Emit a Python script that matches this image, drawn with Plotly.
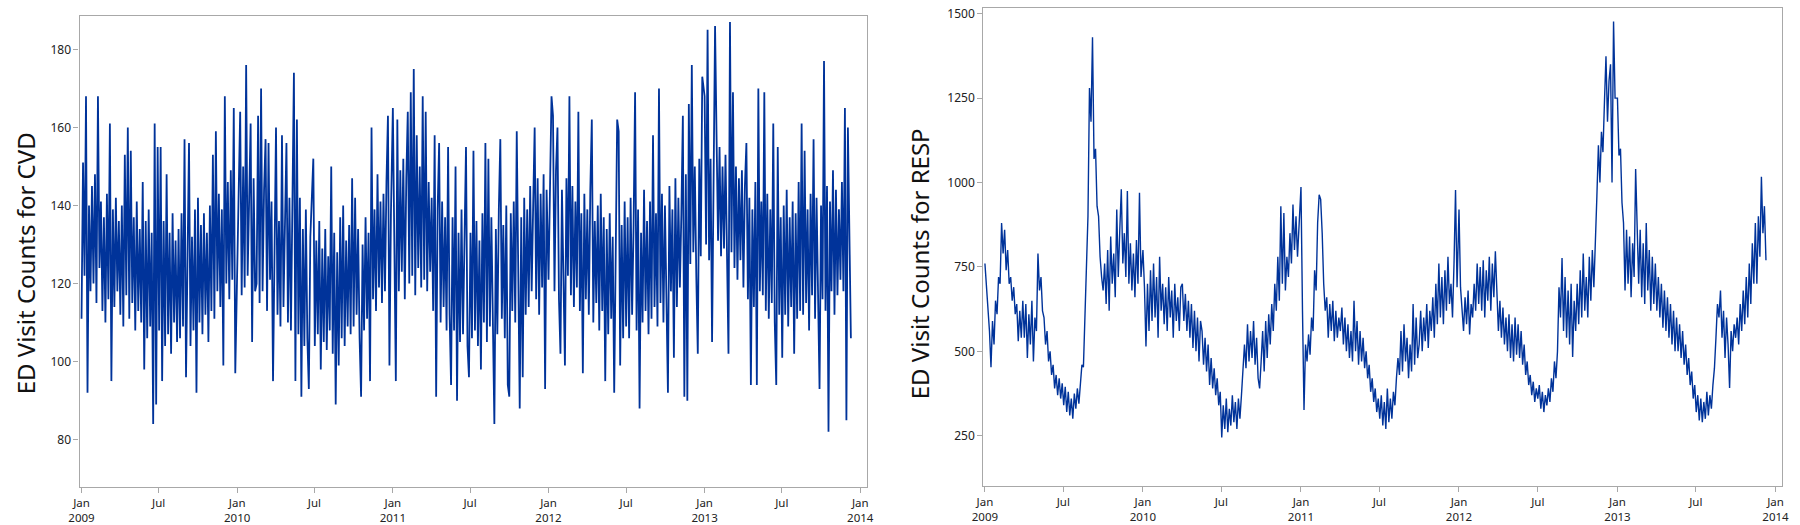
import pandas as pd
import plotly.graph_objects as go

# daily ED visit counts at roughly two samples per week
cvd_2009 = [111, 151, 122, 168, 92, 140, 118, 145, 120, 148, 115, 168, 124,
            141, 113, 137, 110, 143, 116, 161, 95, 139, 114, 142, 118, 136,
            112, 140, 109, 153, 117, 160, 111, 154, 115, 137, 108, 141, 113,
            134, 110, 146, 98, 136, 106, 139, 109, 133, 84, 161, 89, 155,
            108, 155, 95, 136, 104, 148, 107, 133, 102, 138, 110, 131, 105,
            134, 106, 138, 109, 157, 96, 135, 156, 104, 132, 108, 139, 92,
            142, 110, 135, 107, 138, 112, 133, 105, 140, 113, 153, 111, 159,
            118, 143, 114, 139, 99, 168, 120, 146, 116, 149, 121, 165, 97]
cvd_2010 = [121, 148, 164, 117, 150, 119, 176, 122, 145, 161, 105, 147, 118,
            120, 163, 115, 170, 118, 144, 157, 113, 156, 121, 141, 95, 138,
            160, 112, 136, 109, 158, 114, 139, 156, 110, 142, 108, 137, 174,
            95, 162, 107, 142, 91, 134, 104, 139, 106, 93, 132, 144, 152,
            104, 131, 107, 136, 98, 129, 105, 134, 103, 127, 108, 150, 102,
            133, 89, 128, 99, 137, 106, 140, 104, 131, 109, 135, 107, 147,
            109, 142, 112, 134, 106, 91, 130, 108, 137, 111, 133, 95, 160,
            116, 139, 113, 148, 119, 141, 115, 143, 118, 146, 163, 99, 138]
cvd_2011 = [165, 121, 95, 162, 118, 149, 123, 152, 116, 147, 164, 120, 169,
            122, 175, 117, 158, 124, 150, 119, 168, 121, 164, 118, 146, 123,
            142, 113, 158, 91, 139, 156, 110, 141, 114, 137, 108, 155, 112,
            94, 137, 108, 150, 90, 133, 105, 139, 107, 131, 155, 104, 96,
            133, 106, 154, 108, 136, 104, 131, 98, 138, 110, 156, 105, 152,
            109, 137, 112, 84, 134, 107, 139, 157, 111, 135, 106, 140, 94,
            91, 138, 113, 141, 110, 159, 115, 88, 137, 96, 142, 112, 139,
            114, 145, 118, 140, 160, 116, 147, 112, 143, 119, 148, 93, 144]
cvd_2012 = [121, 146, 168, 163, 118, 149, 160, 116, 102, 144, 120, 99, 147,
            122, 168, 117, 145, 114, 141, 119, 164, 113, 138, 97, 143, 116,
            139, 112, 144, 162, 110, 136, 115, 140, 108, 143, 113, 137, 95,
            134, 107, 138, 111, 132, 92, 136, 162, 159, 99, 135, 106, 141,
            109, 137, 106, 142, 112, 135, 169, 108, 139, 88, 133, 110, 144,
            113, 136, 107, 141, 111, 158, 114, 138, 109, 170, 115, 143, 110,
            140, 116, 92, 145, 118, 139, 101, 147, 114, 142, 119, 138, 163,
            91, 148, 90, 166, 125, 176, 128, 150, 122, 102, 152, 127, 173]
cvd_2013 = [168, 130, 185, 126, 152, 105, 149, 186, 158, 131, 155, 127, 150,
            129, 153, 125, 102, 187, 128, 169, 124, 150, 121, 147, 126, 149,
            119, 145, 156, 116, 142, 94, 139, 114, 146, 94, 170, 118, 141,
            117, 169, 113, 143, 111, 139, 115, 161, 110, 94, 155, 112, 137,
            101, 140, 112, 144, 109, 137, 114, 141, 102, 138, 111, 146, 113,
            161, 112, 154, 115, 139, 108, 143, 117, 157, 111, 142, 114, 93,
            140, 116, 177, 113, 145, 82, 141, 118, 149, 112, 144, 117, 139,
            121, 146, 118, 165, 85, 160, 131, 106]

resp_2009 = [760, 690, 610, 560, 453, 590, 520, 650, 610, 720, 700, 880, 790,
             860, 740, 800, 700, 720, 650, 690, 610, 640, 530, 620, 540, 650,
             540, 640, 480, 610, 520, 650, 470, 600, 560, 790, 680, 720, 620,
             600, 520, 560, 470, 500, 430, 460, 390, 430, 370, 420, 360, 405,
             340, 395, 320, 380, 310, 360, 300, 375, 330, 390, 345, 400, 460,
             453, 620, 760, 900, 1280, 1180, 1430, 1070, 1100, 930, 900, 780, 720,
             680, 760, 640, 800, 620, 840, 700, 790, 660, 920, 720, 860, 980,
             760, 850, 720, 975, 700, 820, 680, 790, 660, 830, 700, 970, 720]
resp_2010 = [800, 690, 514, 700, 560, 740, 590, 760, 600, 720, 540, 780, 620,
             700, 580, 690, 560, 720, 600, 680, 540, 700, 590, 660, 560, 690,
             700, 590, 670, 560, 650, 540, 640, 510, 620, 500, 600, 470, 590,
             560, 460, 540, 440, 520, 400, 480, 390, 450, 370, 420, 340, 380,
             245, 340, 270, 360, 260, 330, 280, 370, 290, 350, 270, 360, 300,
             370, 440, 520, 450, 580, 470, 560, 480, 590, 460, 540, 420, 390,
             470, 560, 440, 590, 480, 610, 520, 640, 560, 700, 620, 780, 650,
             930, 700, 910, 680, 780, 720, 850, 760, 935, 800, 900, 780, 880]
resp_2011 = [987, 620, 326, 520, 470, 550, 490, 600, 560, 740, 680, 880, 964,
             950, 850, 700, 620, 660, 540, 640, 560, 650, 530, 620, 540, 600,
             560, 630, 520, 600, 500, 580, 480, 560, 470, 650, 500, 590, 460,
             560, 470, 540, 450, 500, 420, 460, 380, 420, 350, 390, 320, 360,
             300, 370, 280, 350, 270, 390, 290, 360, 300, 380, 340, 420, 480,
             430, 560, 440, 580, 470, 540, 420, 520, 440, 640, 460, 600, 480,
             520, 620, 500, 600, 530, 640, 510, 620, 560, 660, 540, 700, 580,
             760, 600, 720, 580, 740, 620, 780, 640, 700, 600, 760, 978, 690]
resp_2012 = [920, 690, 620, 560, 660, 580, 680, 550, 640, 600, 700, 620, 760,
             640, 750, 620, 770, 600, 740, 650, 780, 620, 760, 660, 796, 640,
             560, 650, 540, 630, 520, 600, 500, 610, 480, 580, 470, 600, 490,
             580, 480, 560, 460, 520, 430, 470, 400, 430, 370, 410, 350, 390,
             360, 400, 330, 380, 320, 370, 340, 390, 350, 420, 380, 470, 420,
             500, 690, 600, 776, 560, 720, 540, 680, 520, 700, 483, 650, 560,
             700, 580, 740, 600, 790, 620, 720, 600, 780, 650, 800, 690, 860,
             960, 1110, 1000, 1150, 1090, 1240, 1374, 1180, 1300, 1350, 1000, 1477, 1250]
resp_2013 = [1250, 1080, 1100, 940, 880, 680, 860, 700, 840, 660, 820, 720, 1040,
             880, 700, 860, 660, 820, 640, 880, 680, 800, 620, 780, 640, 760,
             620, 720, 600, 700, 570, 680, 560, 660, 540, 640, 520, 620, 500,
             600, 500, 580, 480, 560, 460, 520, 430, 480, 400, 440, 360, 400,
             320, 370, 295, 360, 290, 350, 300, 380, 310, 370, 330, 400, 450,
             540, 640, 600, 680, 540, 620, 480, 600, 520, 391, 560, 500, 580,
             540, 600, 520, 640, 560, 680, 580, 720, 600, 760, 640, 820, 700,
             880, 700, 900, 780, 1017, 850, 930, 770]

years = [2009, 2010, 2011, 2012, 2013]
tick_dates = ["2009-01-01", "2009-07-01", "2010-01-01", "2010-07-01", "2011-01-01", "2011-07-01",
              "2012-01-01", "2012-07-01", "2013-01-01", "2013-07-01", "2014-01-01"]
tick_labels = ["Jan<br>2009", "Jul", "Jan<br>2010", "Jul", "Jan<br>2011", "Jul",
               "Jan<br>2012", "Jul", "Jan<br>2013", "Jul", "Jan<br>2014"]


def join_years(parts):
    dates, vals = [], []
    for yr, v in zip(years, parts):
        dates += list(pd.date_range(f"{yr}-01-01", periods=len(v), freq="84h"))
        vals += v
    return dates, vals


cvd_x, cvd_y = join_years([cvd_2009, cvd_2010, cvd_2011, cvd_2012, cvd_2013])
resp_x, resp_y = join_years([resp_2009, resp_2010, resp_2011, resp_2012, resp_2013])

line_col = "#00339a"
frame = "#a8a8a8"
tfont = dict(family="Noto Sans", size=12, color="#222222")

fig = go.Figure()
fig.add_trace(go.Scatter(x=cvd_x, y=cvd_y, mode="lines", line=dict(color=line_col, width=1.8),
                         xaxis="x", yaxis="y", showlegend=False))
fig.add_trace(go.Scatter(x=resp_x, y=resp_y, mode="lines", line=dict(color=line_col, width=1.4),
                         xaxis="x2", yaxis="y2", showlegend=False))

ax = dict(showline=True, linecolor=frame, linewidth=1.3, mirror=True, ticks="outside", ticklen=5,
          tickcolor=frame, tickfont=tfont, showgrid=False, zeroline=False)
xfont = dict(tfont, size=11.5)

fig.update_layout(
    width=1800, height=525,
    margin=dict(l=0, r=0, t=0, b=0),
    paper_bgcolor="white", plot_bgcolor="white",
    xaxis=dict(ax, domain=[68.3 / 1800, 864 / 1800], range=["2008-12-27 10:00", "2014-01-16 12:00"],
               tickvals=tick_dates, ticktext=tick_labels, tickfont=xfont, anchor="y"),
    yaxis=dict(ax, domain=[37 / 525, 511.7 / 525], range=[67.8, 188.5],
               tickvals=[80, 100, 120, 140, 160, 180], anchor="x"),
    xaxis2=dict(ax, domain=[981.7 / 1800, 1789 / 1800], range=["2008-12-28 08:00", "2014-01-16 08:00"],
                tickvals=tick_dates, ticktext=tick_labels, tickfont=xfont, anchor="y2"),
    yaxis2=dict(ax, domain=[38.3 / 525, 520.3 / 525], range=[101, 1518],
                tickvals=[250, 500, 750, 1000, 1250, 1500], anchor="x2"),
    annotations=[
        dict(text="ED Visit Counts for CVD", x=14 / 1800, y=0.5, xref="paper", yref="paper",
             textangle=-90, showarrow=False, xanchor="center", yanchor="middle",
             font=dict(family="Noto Sans", size=24, color="#111111")),
        dict(text="ED Visit Counts for RESP", x=917.5 / 1800, y=0.5, xref="paper", yref="paper",
             textangle=-90, showarrow=False, xanchor="center", yanchor="middle",
             font=dict(family="Noto Sans", size=24, color="#111111")),
    ],
)

# drop the page's default body margin so the figure sits at the window corner
fig.write_html("out.html", config={"displayModeBar": False},
               post_script="document.body.style.margin='0px';")
